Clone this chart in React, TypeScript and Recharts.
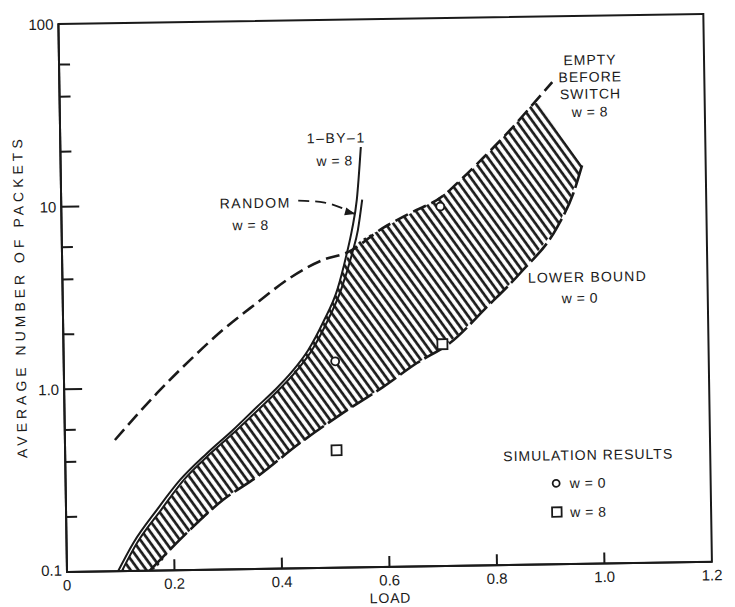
import { ComposedChart, Line, Area, Scatter, XAxis, YAxis, ReferenceArea } from "recharts";

const INK = "#1a1a1a";
const FONT = "'Liberation Sans', Arial, sans-serif";

// axes
const xTicks = [0, 0.2, 0.4, 0.6, 0.8, 1.0, 1.2];
const xTickLabels = ["0", "0.2", "0.4", "0.6", "0.8", "1.0", "1.2"];
const yTicks = [0.1, 0.2, 0.4, 0.6, 0.8, 1, 2, 4, 6, 8, 10, 20, 40, 60, 80, 100];
const yMajor = [0.1, 1, 10, 100];
const yMajorLabels = ["0.1", "1.0", "10", "100"];

// 1-BY-1, w = 8 (solid)
const oneByOneX = [0.095, 0.124, 0.169, 0.213, 0.264, 0.313, 0.358, 0.392, 0.424, 0.455, 0.484, 0.511, 0.53, 0.54, 0.55, 0.559];
const oneByOneY = [0.1, 0.142, 0.215, 0.312, 0.435, 0.58, 0.771, 0.951, 1.19, 1.56, 2.22, 3.32, 5.27, 7.03, 10.3, 20.0];

// RANDOM, w = 8 (solid)
const randomX = [0.102, 0.131, 0.177, 0.22, 0.271, 0.32, 0.366, 0.399, 0.431, 0.462, 0.491, 0.518, 0.54, 0.551, 0.56];
const randomY = [0.1, 0.142, 0.215, 0.312, 0.435, 0.579, 0.77, 0.951, 1.19, 1.56, 2.22, 3.32, 5.27, 7.0, 10.3];

// EMPTY BEFORE SWITCH, w = 8 (dashed)
const emptyX = [0.093, 0.173, 0.235, 0.297, 0.361, 0.423, 0.485, 0.532, 0.598, 0.649, 0.71, 0.743, 0.786, 0.837, 0.881, 0.917];
const emptyY = [0.523, 0.938, 1.41, 2.05, 2.86, 3.89, 4.85, 5.33, 7.18, 8.61, 10.6, 12.9, 17.0, 24.0, 33.3, 43.6];

// LOWER BOUND, w = 0 (dashed)
const lowerX = [0.154, 0.224, 0.292, 0.356, 0.437, 0.518, 0.593, 0.657, 0.719, 0.789, 0.852, 0.922, 0.953, 0.97];
const lowerY = [0.1, 0.16, 0.24, 0.319, 0.485, 0.703, 0.966, 1.3, 1.66, 2.6, 3.96, 7.01, 10.7, 15.2];

// hatched region
const bandX = [0.102, 0.13, 0.154, 0.2, 0.25, 0.3, 0.35, 0.4, 0.45, 0.5, 0.537, 0.6, 0.65, 0.7, 0.75, 0.8, 0.85, 0.888, 0.93, 0.97];
const bandLow = [0.1, 0.1, 0.1, 0.136, 0.185, 0.25, 0.31, 0.4, 0.51, 0.65, 0.76, 1.0, 1.26, 1.54, 2.02, 2.8, 3.9, 5.3, 7.8, 15.2];
const bandHigh = [0.1, 0.142, 0.175, 0.26, 0.38, 0.51, 0.69, 0.95, 1.48, 2.75, 5.4, 7.2, 8.6, 10.3, 13.4, 18.6, 26.5, 33.6, 22.5, 15.2];

// RANDOM pointer arrow
const arrowX = [0.441, 0.49, 0.546];
const arrowY = [10.3, 10.0, 8.6];

// simulation results
const simW0X = [0.505, 0.705];
const simW0Y = [1.35, 9.3];
const simW8X = [0.505, 0.705];
const simW8Y = [0.44, 1.64];

const pts = (xs: number[], ys: number[]) => xs.map((x, i) => ({ x, y: ys[i] }));

const oneByOne = pts(oneByOneX, oneByOneY);
const random = pts(randomX, randomY);
const empty = pts(emptyX, emptyY);
const lower = pts(lowerX, lowerY);
const arrow = pts(arrowX, arrowY);
const simW0 = pts(simW0X, simW0Y);
const simW8 = pts(simW8X, simW8Y);
const band = bandX.map((x, i) => ({ x, range: [bandLow[i], bandHigh[i]] }));

function XTick(props: any) {
  const { x, y, payload } = props;
  const v = payload.value;
  const i = xTicks.indexOf(v);
  const inner = v > 0 && v < 1.2;
  return (
    <g>
      {inner && <line x1={x} y1={y} x2={x} y2={y - 11} stroke={INK} strokeWidth={2} />}
      <text x={x} y={y + 13} textAnchor="middle" dominantBaseline="central" fontSize={15} fontFamily={FONT} fill={INK}>
        {xTickLabels[i]}
      </text>
    </g>
  );
}

function YTick(props: any) {
  const { x, y, payload } = props;
  const v = payload.value;
  const mi = yMajor.indexOf(v);
  const len = v === 0.1 || v === 100 ? 0 : mi >= 0 ? 18 : 11;
  return (
    <g>
      {len > 0 && <line x1={x} y1={y} x2={x + len} y2={y} stroke={INK} strokeWidth={2} />}
      {mi >= 0 && (
        <text x={x - 5} y={v === 0.1 ? y - 2 : y} textAnchor="end" dominantBaseline="central" fontSize={15} fontFamily={FONT} fill={INK}>
          {yMajorLabels[mi]}
        </text>
      )}
    </g>
  );
}

function ArrowDot(props: any) {
  const { cx, cy, index } = props;
  if (index !== arrowX.length - 1) return <g key={index} />;
  return (
    <polygon key={index} points="0,0 -10,-4 -10,4" fill={INK} transform={`translate(${cx},${cy}) rotate(16)`} />
  );
}

const txt = { fontFamily: FONT, fill: INK, fontSize: 14, dominantBaseline: "central" as const };

export default function App() {
  return (
    <>
      <style>{"html,body{overflow:hidden;background:#fff}"}</style>
      <div
        style={{
          position: "relative",
          width: 720,
          height: 599,
          transform: "rotate(-0.9deg)",
          transformOrigin: "59px 564px",
        }}
      >
        <ComposedChart width={720} height={599} margin={{ top: 16, right: 16, bottom: 0, left: 0 }}>
          <XAxis
            type="number"
            dataKey="x"
            domain={[0, 1.2]}
            ticks={xTicks}
            allowDataOverflow
            height={35}
            tickSize={0}
            tickMargin={0}
            tickLine={false}
            axisLine={{ stroke: INK, strokeWidth: 2 }}
            tick={(p: any) => <XTick {...p} />}
          />
          <YAxis
            type="number"
            scale="log"
            domain={[0.1, 100]}
            ticks={yTicks}
            allowDataOverflow
            width={59}
            tickSize={0}
            tickMargin={0}
            tickLine={false}
            axisLine={{ stroke: INK, strokeWidth: 2 }}
            tick={(p: any) => <YTick {...p} />}
          />
          <Area
            data={band}
            dataKey="range"
            type="monotone"
            fill="url(#hatch)"
            fillOpacity={1}
            stroke="none"
            isAnimationActive={false}
          />
          <Line data={oneByOne} dataKey="y" type="monotone" stroke={INK} strokeWidth={2} dot={false} isAnimationActive={false} />
          <Line data={random} dataKey="y" type="monotone" stroke={INK} strokeWidth={2} dot={false} isAnimationActive={false} />
          <Line data={empty} dataKey="y" type="monotone" stroke={INK} strokeWidth={2.6} strokeDasharray="14 6" dot={false} isAnimationActive={false} />
          <Line data={lower} dataKey="y" type="monotone" stroke={INK} strokeWidth={2.6} strokeDasharray="24 5" dot={false} isAnimationActive={false} />
          <Line
            data={arrow}
            dataKey="y"
            type="monotone"
            stroke={INK}
            strokeWidth={1.8}
            strokeDasharray="11 6"
            dot={(p: any) => <ArrowDot {...p} />}
            isAnimationActive={false}
          />
          <Scatter
            data={simW0}
            dataKey="y"
            isAnimationActive={false}
            shape={(p: any) => <circle cx={p.cx} cy={p.cy} r={4} fill="#fff" stroke={INK} strokeWidth={1.8} />}
          />
          <Scatter
            data={simW8}
            dataKey="y"
            isAnimationActive={false}
            shape={(p: any) => <rect x={p.cx - 5} y={p.cy - 5} width={10} height={10} fill="#fff" stroke={INK} strokeWidth={1.8} />}
          />
          <ReferenceArea x1={0} x2={1.2} y1={0.1} y2={100} fill="none" fillOpacity={0} stroke={INK} strokeWidth={2} />
        </ComposedChart>
        <svg
          width={720}
          height={599}
          style={{ position: "absolute", left: 0, top: 0, overflow: "visible", pointerEvents: "none" }}
        >
          <defs>
            <pattern id="hatch" patternUnits="userSpaceOnUse" width={6.4} height={6.4} patternTransform="rotate(-35)">
              <rect width={6.4} height={6.4} fill="#fff" />
              <line x1={1.5} y1={0} x2={1.5} y2={6.4} stroke={INK} strokeWidth={2.7} />
            </pattern>
          </defs>
          <text {...txt} transform="translate(16,288) rotate(-90)" textAnchor="middle" letterSpacing={4}>
            AVERAGE NUMBER OF PACKETS
          </text>
          <text {...txt} x={382} y={595} textAnchor="middle" letterSpacing={0.8}>LOAD</text>

          <text {...txt} x={335} y={134} textAnchor="middle" letterSpacing={1.5}>1–BY–1</text>
          <text {...txt} x={333} y={157} textAnchor="middle" letterSpacing={0.5}>w = 8</text>
          <text {...txt} x={253} y={198} textAnchor="middle" letterSpacing={1.5}>RANDOM</text>
          <text {...txt} x={248} y={220} textAnchor="middle" letterSpacing={0.5}>w = 8</text>

          <text {...txt} x={590} y={60} textAnchor="middle" letterSpacing={1}>EMPTY</text>
          <text {...txt} x={590} y={77} textAnchor="middle" letterSpacing={1}>BEFORE</text>
          <text {...txt} x={590} y={94} textAnchor="middle" letterSpacing={1}>SWITCH</text>
          <text {...txt} x={589} y={112} textAnchor="middle" letterSpacing={0.5}>w = 8</text>

          <text {...txt} x={584} y={277} textAnchor="middle" letterSpacing={1.2}>LOWER BOUND</text>
          <text {...txt} x={576} y={298} textAnchor="middle" letterSpacing={0.5}>w = 0</text>

          <text {...txt} x={582} y={455} textAnchor="middle" letterSpacing={1}>SIMULATION RESULTS</text>
          <circle cx={549.5} cy={483} r={3.5} fill="#fff" stroke={INK} strokeWidth={1.8} />
          <text {...txt} x={563} y={483} textAnchor="start" letterSpacing={0.5}>w = 0</text>
          <rect x={545} y={507} width={9.5} height={9.5} fill="#fff" stroke={INK} strokeWidth={1.8} />
          <text {...txt} x={563} y={512} textAnchor="start" letterSpacing={0.5}>w = 8</text>
        </svg>
      </div>
    </>
  );
}
